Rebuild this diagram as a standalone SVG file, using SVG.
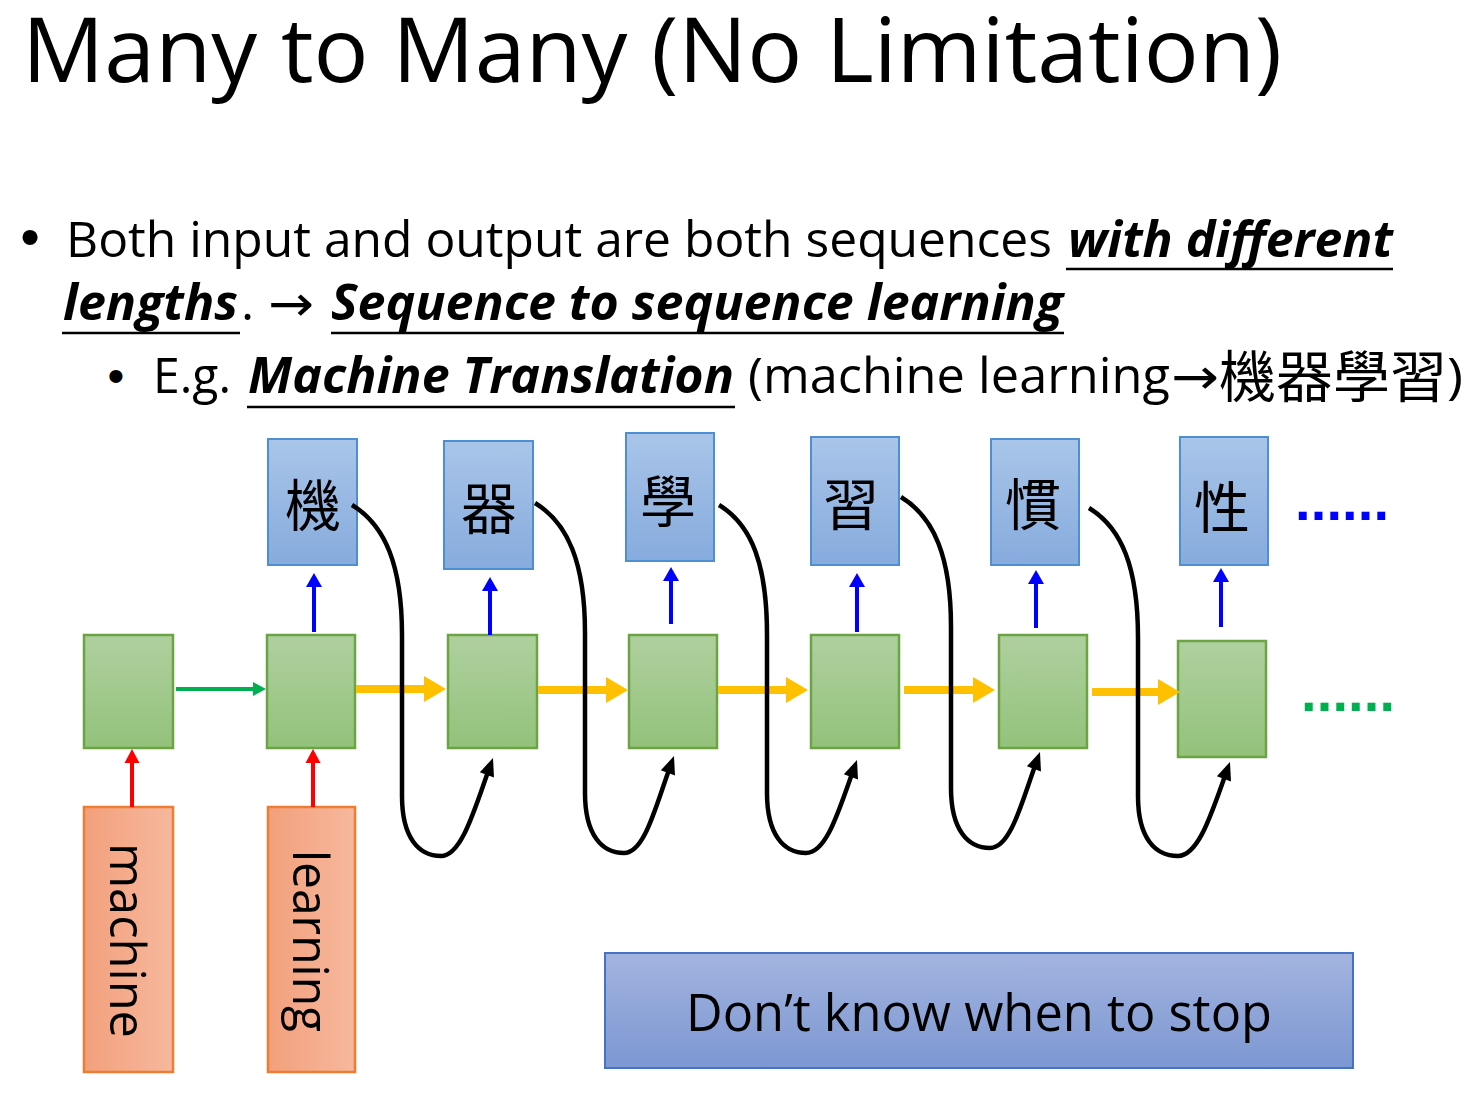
<svg xmlns="http://www.w3.org/2000/svg" width="1476" height="1094" viewBox="0 0 1476 1094">
<defs>
<style>
.txt{font-family:"Open Sans","Noto Sans","DejaVu Sans",sans-serif;fill:#000}
.body{font-size:50px}
.bi{font-weight:bold;font-style:italic}
.ul{stroke:#000;stroke-width:2.5}
.cjk{font-family:"Noto Sans CJK TC","Noto Sans CJK SC",sans-serif;fill:#000}
.outbox{fill:url(#gBlue);stroke:#4e8fd3;stroke-width:2}
.hid{fill:url(#gGreen);stroke:#6ca443;stroke-width:2.5}
.inbox{fill:url(#gOrange);stroke:#ed7d31;stroke-width:2.5}
.rot{font-family:"Open Sans","Noto Sans",sans-serif;font-size:50px;fill:#000}
.blue{stroke:#0000ff;stroke-width:4;fill:none}
.red{stroke:#ff0000;stroke-width:4;fill:none}
.grn{stroke:#00b050;stroke-width:4;fill:none}
.yel{stroke:#ffc000;stroke-width:8;fill:none}
.blk{stroke:#000;stroke-width:4.5;fill:none}
.bullet{font-family:"Liberation Sans",Arial,sans-serif;fill:#000}
.dots{font-family:"Liberation Sans",Arial,sans-serif;font-weight:bold;font-size:56px}
</style>
<linearGradient id="gBlue" x1="0" y1="0" x2="0" y2="1">
<stop offset="0" stop-color="#a9c5e9"/><stop offset="1" stop-color="#86abdd"/>
</linearGradient>
<linearGradient id="gGreen" x1="0" y1="0" x2="0" y2="1">
<stop offset="0" stop-color="#afd09f"/><stop offset="1" stop-color="#93c27b"/>
</linearGradient>
<linearGradient id="gOrange" x1="0" y1="0" x2="1" y2="0">
<stop offset="0" stop-color="#f3a07c"/><stop offset="1" stop-color="#f6b89d"/>
</linearGradient>
<linearGradient id="gNote" x1="0" y1="0" x2="0" y2="1">
<stop offset="0" stop-color="#a3b4df"/><stop offset="1" stop-color="#7c97d2"/>
</linearGradient>
<marker id="mBlue" markerUnits="userSpaceOnUse" markerWidth="16" markerHeight="16" refX="2" refY="8" orient="auto" overflow="visible">
<path d="M0,0 L14,8 L0,16 z" fill="#0000ff"/>
</marker>
<marker id="mRed" markerUnits="userSpaceOnUse" markerWidth="16" markerHeight="15" refX="2" refY="7.5" orient="auto" overflow="visible">
<path d="M0,0 L14,7.5 L0,15 z" fill="#ff0000"/>
</marker>
<marker id="mGreen" markerUnits="userSpaceOnUse" markerWidth="14" markerHeight="14" refX="2" refY="7" orient="auto" overflow="visible">
<path d="M0,0 L13,7 L0,14 z" fill="#00b050"/>
</marker>
<marker id="mYellow" markerUnits="userSpaceOnUse" markerWidth="24" markerHeight="26" refX="2" refY="13" orient="auto" overflow="visible">
<path d="M0,0 L22,13 L0,26 z" fill="#ffc000"/>
</marker>
<marker id="mBlack" markerUnits="userSpaceOnUse" markerWidth="18" markerHeight="15" refX="2" refY="7.5" orient="auto" overflow="visible">
<path d="M0,0 L18,7.5 L0,15 z" fill="#000"/>
</marker>
</defs>

<rect x="0" y="0" width="1476" height="1094" fill="#ffffff"/>

<g id="slide-text">
<text class="txt" x="22" y="82" font-size="90" textLength="1260" lengthAdjust="spacingAndGlyphs">Many to Many (No Limitation)</text>

<text class="bullet" x="30" y="256" font-size="56" text-anchor="middle">•</text>
<text class="txt body" x="66" y="257" textLength="986" lengthAdjust="spacingAndGlyphs">Both input and output are both sequences</text>
<text class="txt body bi" x="1068" y="257" textLength="325" lengthAdjust="spacingAndGlyphs">with different</text>
<line class="ul" x1="1066" y1="269" x2="1393" y2="269"/>

<text class="txt body bi" x="63" y="320" textLength="175" lengthAdjust="spacingAndGlyphs">lengths</text>
<line class="ul" x1="62" y1="333" x2="240" y2="333"/>
<text class="txt body" x="241" y="320">.</text>
<text class="txt body" x="268" y="321" textLength="46" lengthAdjust="spacingAndGlyphs">→</text>
<text class="txt body bi" x="331" y="320" textLength="732" lengthAdjust="spacingAndGlyphs">Sequence to sequence learning</text>
<line class="ul" x1="331" y1="333" x2="1064" y2="333"/>

<text class="bullet" x="116" y="392" font-size="48" text-anchor="middle">•</text>
<text class="txt body" x="153" y="393" textLength="78" lengthAdjust="spacingAndGlyphs">E.g.</text>
<text class="txt body bi" x="248" y="393" textLength="486" lengthAdjust="spacingAndGlyphs">Machine Translation</text>
<line class="ul" x1="247" y1="407" x2="735" y2="407"/>
<text class="txt body" x="748" y="393" textLength="422" lengthAdjust="spacingAndGlyphs">(machine learning</text>
<text class="txt body" x="1171" y="394" textLength="48" lengthAdjust="spacingAndGlyphs">→</text>
<text class="cjk" x="1219" y="397" font-size="56" textLength="228" lengthAdjust="spacingAndGlyphs">機器學習</text>
<text class="txt body" x="1447" y="393" textLength="16" lengthAdjust="spacingAndGlyphs">)</text>
</g>

<g id="nodes">
<g id="input-machine">
<rect class="inbox" x="84" y="807" width="89" height="265"/>
<text class="rot" transform="translate(110,843) rotate(90)" textLength="195" lengthAdjust="spacingAndGlyphs">machine</text>
</g>
<g id="input-learning">
<rect class="inbox" x="268" y="807" width="87" height="265"/>
<text class="rot" transform="translate(293,850) rotate(90)" textLength="182" lengthAdjust="spacingAndGlyphs">learning</text>
</g>

<g id="hidden-1"><rect class="hid" x="84" y="635" width="89" height="113"/></g>
<g id="hidden-2"><rect class="hid" x="267" y="635" width="88" height="113"/></g>
<g id="hidden-3"><rect class="hid" x="448" y="635" width="89" height="113"/></g>
<g id="hidden-4"><rect class="hid" x="629" y="635" width="88" height="113"/></g>
<g id="hidden-5"><rect class="hid" x="811" y="635" width="88" height="113"/></g>
<g id="hidden-6"><rect class="hid" x="999" y="635" width="88" height="113"/></g>
<g id="hidden-7"><rect class="hid" x="1178" y="641" width="88" height="116"/></g>

<g id="output-1"><rect class="outbox" x="268" y="439" width="89" height="126"/><text class="cjk" x="313" y="526" font-size="56" text-anchor="middle">機</text></g>
<g id="output-2"><rect class="outbox" x="444" y="441" width="89" height="128"/><text class="cjk" x="489" y="529" font-size="56" text-anchor="middle">器</text></g>
<g id="output-3"><rect class="outbox" x="626" y="433" width="88" height="128"/><text class="cjk" x="668" y="522" font-size="56" text-anchor="middle">學</text></g>
<g id="output-4"><rect class="outbox" x="811" y="437" width="88" height="128"/><text class="cjk" x="851" y="525" font-size="56" text-anchor="middle">習</text></g>
<g id="output-5"><rect class="outbox" x="991" y="439" width="88" height="126"/><text class="cjk" x="1033" y="525" font-size="56" text-anchor="middle">慣</text></g>
<g id="output-6"><rect class="outbox" x="1180" y="437" width="88" height="128"/><text class="cjk" x="1222" y="528" font-size="56" text-anchor="middle">性</text></g>

<g id="note-stop">
<rect x="605" y="953" width="748" height="115" fill="url(#gNote)" stroke="#4472c4" stroke-width="2"/>
<text class="txt" x="686" y="1031" font-size="51" textLength="586" lengthAdjust="spacingAndGlyphs">Don’t know when to stop</text>
</g>

<g id="ellipsis-out"><text class="dots" x="1295" y="520" fill="#0000ff" textLength="94" lengthAdjust="spacing">......</text></g>
<g id="ellipsis-hidden"><text class="dots" x="1301" y="711" fill="#00b050" textLength="94" lengthAdjust="spacing">......</text></g>
</g>

<g id="connectors">
<line class="red" x1="132" y1="807" x2="132" y2="761" marker-end="url(#mRed)"/>
<line class="red" x1="313" y1="807" x2="313" y2="761" marker-end="url(#mRed)"/>

<line class="grn" x1="176" y1="689" x2="255" y2="689" marker-end="url(#mGreen)"/>

<line class="yel" x1="356" y1="689" x2="426" y2="689" marker-end="url(#mYellow)"/>
<line class="yel" x1="538" y1="690" x2="608" y2="690" marker-end="url(#mYellow)"/>
<line class="yel" x1="718" y1="690" x2="788" y2="690" marker-end="url(#mYellow)"/>
<line class="yel" x1="904" y1="690" x2="975" y2="690" marker-end="url(#mYellow)"/>
<line class="yel" x1="1092" y1="692" x2="1160" y2="692" marker-end="url(#mYellow)"/>

<line class="blue" x1="314" y1="632" x2="314" y2="585" marker-end="url(#mBlue)"/>
<line class="blue" x1="490" y1="635" x2="490" y2="589" marker-end="url(#mBlue)"/>
<line class="blue" x1="671" y1="624" x2="671" y2="579" marker-end="url(#mBlue)"/>
<line class="blue" x1="857" y1="632" x2="857" y2="585" marker-end="url(#mBlue)"/>
<line class="blue" x1="1036" y1="628" x2="1036" y2="582" marker-end="url(#mBlue)"/>
<line class="blue" x1="1221" y1="627" x2="1221" y2="580" marker-end="url(#mBlue)"/>

<path class="blk" d="M352,505 C385,525 402,565 402,635 L402,796 C402,838 419,856 441,856 C461,856 474,811 487.6,773" marker-end="url(#mBlack)"/>
<path class="blk" d="M535,503 C568,523 585,563 585,633 L585,793 C585,835 602,853 624,853 C644,853 655,809 668.6,771" marker-end="url(#mBlack)"/>
<path class="blk" d="M719,505 C752,525 767,565 767,635 L767,793 C767,835 784,853 806,853 C826,853 838,813 851.6,775" marker-end="url(#mBlack)"/>
<path class="blk" d="M901,497 C934,517 951,557 951,627 L951,788 C951,830 968,848 990,848 C1010,848 1021,805 1034.6,767" marker-end="url(#mBlack)"/>
<path class="blk" d="M1089,508 C1122,528 1138,568 1138,638 L1138,796 C1138,838 1155,856 1178,856 C1198,856 1211,815 1224.6,777" marker-end="url(#mBlack)"/>
</g>
</svg>
